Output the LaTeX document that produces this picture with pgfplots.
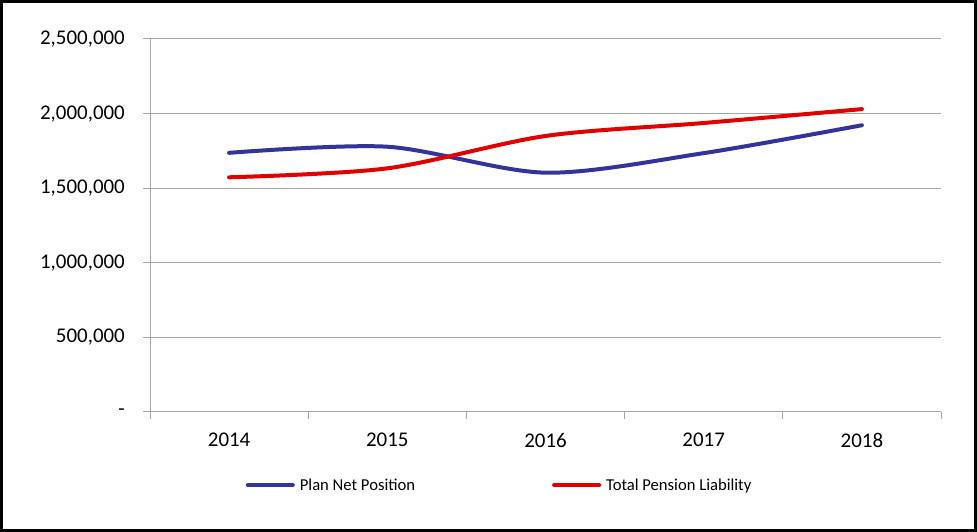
\documentclass[border=0pt]{standalone}
\usepackage{pgfplots}
\pgfplotsset{compat=1.18}
\usepackage{fontspec}
\setmainfont{Carlito}
\definecolor{pnp}{HTML}{333399}
\definecolor{tpl}{HTML}{E00000}
\definecolor{gridc}{HTML}{A6A6A6}
\begin{document}
\begin{tikzpicture}
\begin{axis}[
  at={(150bp,120bp)}, anchor=south west,
  scale only axis, width=791bp, height=373bp,
  xmin=-0.5, xmax=4.5, ymin=0, ymax=2500000,
  scaled y ticks=false,
  axis lines*=left,
  axis line style={gridc, line width=1bp},
  tick align=outside, major tick length=7bp,
  tick style={gridc, line width=1bp},
  xtick={-0.5,0.5,1.5,2.5,3.5,4.5},
  xticklabels={2014,2015,2016,2017,2018,{}},
  xticklabel style={inner sep=0pt, anchor=north, xshift=79.1bp, yshift=-14bp},
  ytick={0,500000,1000000,1500000,2000000,2500000},
  yticklabels={-,{500,000},{1,000,000},{1,500,000},{2,000,000},{2,500,000}},
  yticklabel style={inner sep=0pt, anchor=east, xshift=-18bp},
  ticklabel style={font=\fontsize{21}{25}\selectfont, text=black},
  ymajorgrids, grid style={gridc, line width=1bp},
  legend style={at={(0.442,-0.196)}, anchor=center, draw=none, fill=none,
    legend columns=2, font=\fontsize{16.7}{20}\selectfont,
    /tikz/every odd column/.append style={column sep=3bp},
    /tikz/every even column/.append style={column sep=135bp}},
  legend cell align=left,
  legend image code/.code={\draw[#1] (0bp,0bp) -- (45bp,0bp);},
]
\addplot[pnp, line width=4bp, line cap=round, smooth] coordinates {(0,1737000)(1,1778000)(2,1604000)(3,1735000)(4,1922000)};
\addlegendentry{Plan Net Position}
\addplot[tpl, line width=4bp, line cap=round, smooth] coordinates {(0,1573000)(1,1633000)(2,1850000)(3,1937000)(4,2030000)};
\addlegendentry{Total Pension Liability}
\end{axis}
\draw[black, line width=3bp] (1.5bp,1.5bp) rectangle (975.5bp,530.5bp);
\pgfresetboundingbox
\path (0bp,0bp) rectangle (977bp,532bp);
\end{tikzpicture}
\end{document}
